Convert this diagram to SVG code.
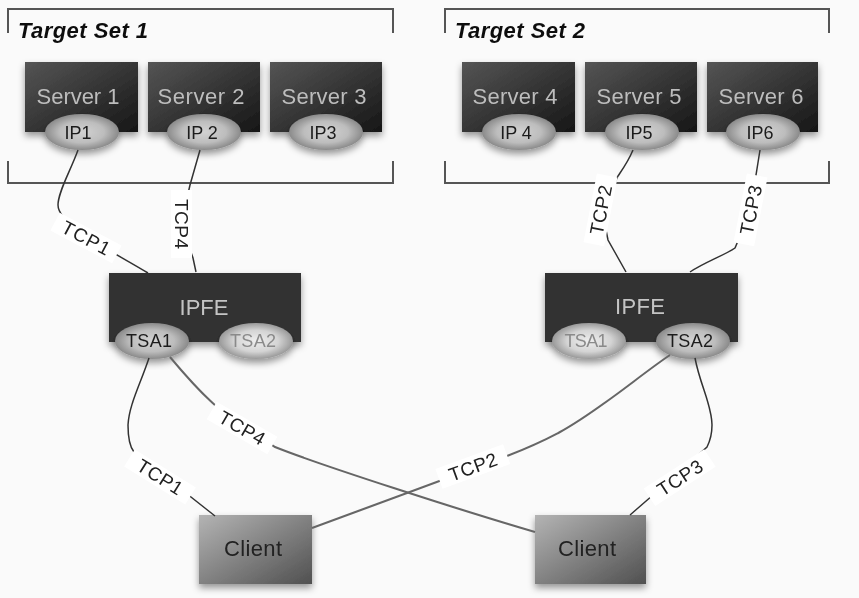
<svg xmlns="http://www.w3.org/2000/svg" width="859" height="598" viewBox="0 0 859 598">
<style>
text{font-family:"Liberation Sans",Arial,sans-serif;text-anchor:middle}
.srv{fill:url(#dark);filter:url(#sh)}
.cl{fill:url(#grey);filter:url(#sh)}
.el{fill:url(#oval);filter:url(#sh)}
.eld{fill:url(#ovald);filter:url(#sh)}
.st{font-size:22px;fill:#bdbdbd}
.ip{font-size:18px;fill:#1c1c1c}
.ipd{font-size:18px;fill:#8a8a8a}
.ipfe{font-size:22px;fill:#c4c4c4}
.clt{font-size:22px;fill:#222}
.br{fill:none;stroke:#555;stroke-width:2}
.ttl{font-size:22px;font-weight:bold;font-style:italic;fill:#111;text-anchor:start}
.c{fill:none;stroke:#333;stroke-width:1.5}
.cg{fill:none;stroke:#666;stroke-width:2}
.lb{fill:#fff}
.tl{font-size:19px;fill:#222}
</style>
<defs>
<linearGradient id="dark" x1="0" y1="0" x2="1" y2="1"><stop offset="0" stop-color="#555"/><stop offset="1" stop-color="#161616"/></linearGradient>
<linearGradient id="grey" x1="0" y1="0" x2="1" y2="1"><stop offset="0" stop-color="#b4b4b4"/><stop offset="1" stop-color="#505050"/></linearGradient>
<radialGradient id="oval"><stop offset="0" stop-color="#d2d2d2"/><stop offset=".6" stop-color="#bdbdbd"/><stop offset="1" stop-color="#8a8a8a"/></radialGradient>
<radialGradient id="ovald"><stop offset="0" stop-color="#eee"/><stop offset=".6" stop-color="#d4d4d4"/><stop offset="1" stop-color="#999"/></radialGradient>
<filter id="sh" x="-20%" y="-20%" width="140%" height="150%"><feDropShadow dx="0" dy="4" stdDeviation="3.5" flood-color="#000" flood-opacity=".4"/></filter>
<filter id="soft" filterUnits="userSpaceOnUse" x="0" y="0" width="859" height="598"><feGaussianBlur stdDeviation=".45"/></filter>
</defs>
<rect width="859" height="598" fill="#fafafa"/>
<g filter="url(#soft)">
<g id="set1"><path class="br" d="M8 33V9H393V33M8 161V183H393V161"/><text class="ttl" x="18" y="38" textLength="130">Target Set 1</text></g>
<g id="set2"><path class="br" d="M445 33V9H829V33M445 161V183H829V161"/><text class="ttl" x="455" y="38" textLength="130">Target Set 2</text></g>
<g id="server1"><rect class="srv" x="25" y="62" width="113" height="70"/><ellipse class="el" cx="82" cy="132" rx="37" ry="18"/><text class="st" x="78" y="104" textLength="83">Server 1</text><text class="ip" x="78" y="139">IP1</text></g>
<g id="server2"><rect class="srv" x="148" y="62" width="112" height="70"/><ellipse class="el" cx="204" cy="132" rx="37" ry="18"/><text class="st" x="201" y="104" textLength="87">Server 2</text><text class="ip" x="202" y="139">IP 2</text></g>
<g id="server3"><rect class="srv" x="270" y="62" width="112" height="70"/><ellipse class="el" cx="326" cy="132" rx="37" ry="18"/><text class="st" x="324" y="104" textLength="85">Server 3</text><text class="ip" x="323" y="139">IP3</text></g>
<g id="server4"><rect class="srv" x="462" y="62" width="113" height="70"/><ellipse class="el" cx="519" cy="132" rx="37" ry="18"/><text class="st" x="515" y="104" textLength="85">Server 4</text><text class="ip" x="516" y="139">IP 4</text></g>
<g id="server5"><rect class="srv" x="585" y="62" width="112" height="70"/><ellipse class="el" cx="642" cy="132" rx="37" ry="18"/><text class="st" x="639" y="104" textLength="85">Server 5</text><text class="ip" x="639" y="139">IP5</text></g>
<g id="server6"><rect class="srv" x="707" y="62" width="111" height="70"/><ellipse class="el" cx="763" cy="132" rx="37" ry="18"/><text class="st" x="761" y="104" textLength="85">Server 6</text><text class="ip" x="760" y="139">IP6</text></g>
<g id="ipfe1"><rect class="srv" style="fill:#333" x="109" y="273" width="192" height="69"/><ellipse class="el" cx="152" cy="341" rx="37" ry="18"/><ellipse class="eld" cx="256" cy="341" rx="37" ry="18"/><text class="ipfe" x="204" y="315" textLength="49">IPFE</text><text class="ip" x="149" y="347" textLength="46">TSA1</text><text class="ipd" x="253" y="347" textLength="46">TSA2</text></g>
<g id="ipfe2"><rect class="srv" style="fill:#333" x="545" y="273" width="193" height="69"/><ellipse class="eld" cx="589" cy="341" rx="37" ry="18"/><ellipse class="el" cx="693" cy="341" rx="37" ry="18"/><text class="ipfe" x="640" y="314" textLength="50">IPFE</text><text class="ipd" x="586" y="347" textLength="43">TSA1</text><text class="ip" x="690" y="347" textLength="46">TSA2</text></g>
<g id="client1"><rect class="cl" x="199" y="515" width="113" height="69"/><text class="clt" x="253" y="556" textLength="58">Client</text></g>
<g id="client2"><rect class="cl" x="535" y="515" width="111" height="69"/><text class="clt" x="587" y="556" textLength="58">Client</text></g>
<g id="connectors">
<path class="c" d="M78 150C70 172 58 192 58 205C58 225 110 250 148 273"/>
<path class="c" d="M200 150L190 185L181 224L193 258L196 272"/>
<path class="c" d="M633 150C628 162 622 170 618 176L602 210L608 240L626 272"/>
<path class="c" d="M760 150L756 175L751 210L735 248C725 255 705 262 690 272"/>
<path class="c" d="M149 358C140 385 129 405 128 425C128 440 130 447 134 452L215 516"/>
<path class="cg" d="M170 357C185 375 200 392 216 406L275 447C320 465 460 510 535 532"/>
<path class="cg" d="M312 528L407 493L507 456C530 447 545 440 560 432C600 410 640 375 670 355"/>
<path class="c" d="M695 358C700 385 712 405 712 425C712 435 710 441 707 447L653 495L630 515"/>
<g id="label-tcp1a" transform="translate(86 238) rotate(28)"><rect class="lb" x="-35" y="-10" width="70" height="20"/><text class="tl" x="0" y="6.5" textLength="52">TCP1</text></g>
<g id="label-tcp4a" transform="translate(181 224) rotate(90)"><rect class="lb" x="-34" y="-11" width="68" height="21"/><text class="tl" x="0" y="6.5" textLength="50">TCP4</text></g>
<g id="label-tcp2a" transform="translate(601 210) rotate(-79)"><rect class="lb" x="-35" y="-11" width="70" height="21"/><text class="tl" x="0" y="6.5" textLength="50">TCP2</text></g>
<g id="label-tcp3a" transform="translate(751 210) rotate(-79)"><rect class="lb" x="-35" y="-11" width="70" height="21"/><text class="tl" x="0" y="6.5" textLength="50">TCP3</text></g>
<g id="label-tcp1b" transform="translate(160 477) rotate(32)"><rect class="lb" x="-36" y="-10" width="72" height="20"/><text class="tl" x="0" y="6.5" textLength="50">TCP1</text></g>
<g id="label-tcp4b" transform="translate(242 428) rotate(30)"><rect class="lb" x="-35" y="-10" width="70" height="20"/><text class="tl" x="0" y="6.5" textLength="50">TCP4</text></g>
<g id="label-tcp2b" transform="translate(473 467) rotate(-20)"><rect class="lb" x="-36" y="-11" width="72" height="21"/><text class="tl" x="0" y="6.5" textLength="50">TCP2</text></g>
<g id="label-tcp3b" transform="translate(680 478) rotate(-33)"><rect class="lb" x="-36" y="-11" width="72" height="21"/><text class="tl" x="0" y="6.5" textLength="50">TCP3</text></g>
</g>
</g>
</svg>
